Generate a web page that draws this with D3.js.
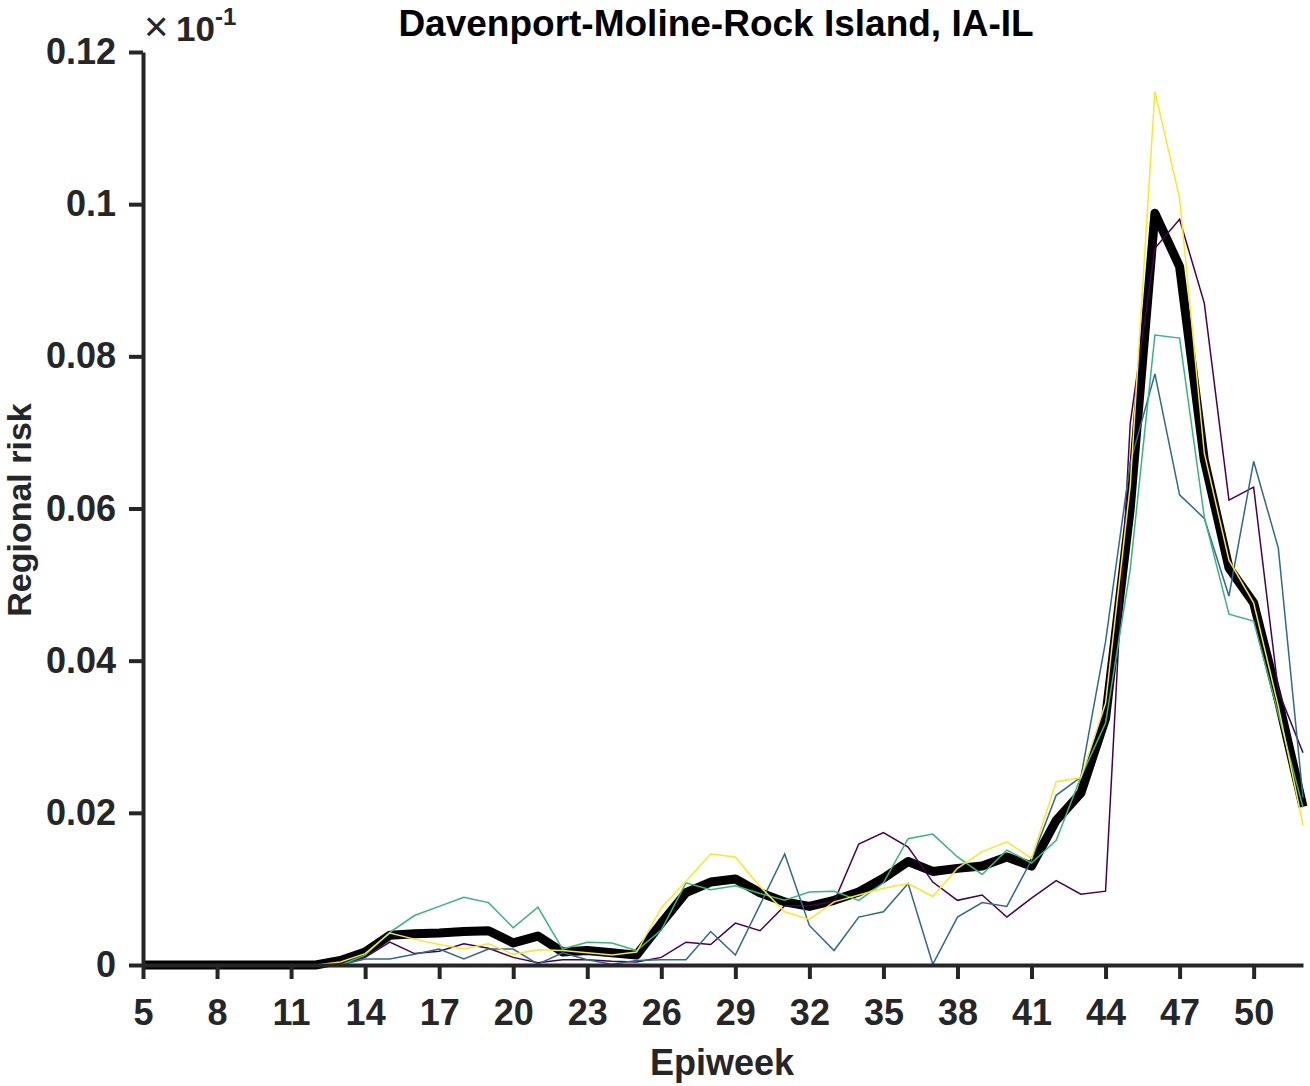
<!DOCTYPE html>
<meta charset="utf-8">
<html>
<head>
<script src="https://cdn.jsdelivr.net/npm/d3@7"></script>
<style>
  body { margin: 0; background: #fff; }
  text { font-family: "Liberation Sans", Arial, Helvetica, sans-serif; font-weight: bold; }
</style>
</head>
<body>
<svg id="chart" width="1310" height="1086"></svg>
<script>
// epiweeks 5..52
var weeks = d3.range(5, 53);
var xTicks = [5, 8, 11, 14, 17, 20, 23, 26, 29, 32, 35, 38, 41, 44, 47, 50];
var yTicks = [0, 0.02, 0.04, 0.06, 0.08, 0.1, 0.12];

// regional risk (axis units, x10^-1)
var meanRisk = [0, 0, 0, 0, 0, 0, 0, 0, 0.0006, 0.0017, 0.0039, 0.0041, 0.0042, 0.0044, 0.0045, 0.0029,
  0.0038, 0.0017, 0.0019, 0.0016, 0.0013, 0.0055, 0.0095, 0.0109, 0.0113, 0.0095, 0.0083, 0.0077,
  0.0085, 0.0096, 0.0114, 0.0136, 0.0123, 0.0127, 0.0130, 0.0142, 0.0130, 0.0190, 0.0226, 0.0324,
  0.0600, 0.0988, 0.0918, 0.0664, 0.0522, 0.0476, 0.0348, 0.0208];
var run1 = [0, 0, 0, 0, 0, 0, 0, 0, 0, 0.0010, 0.0030, 0.0015, 0.0018, 0.0028, 0.0022, 0.0010,
  0.0003, 0.0007, 0.0007, 0.0005, 0.0004, 0.0010, 0.0030, 0.0027, 0.0055, 0.0045, 0.0078, 0.0078,
  0.0083, 0.0159, 0.0174, 0.0155, 0.0109, 0.0085, 0.0092, 0.0063, 0.0088, 0.0111, 0.0093, 0.0097,
  0.0712, 0.0942, 0.0980, 0.0870, 0.0611, 0.0628, 0.0360, 0.0279];
var run2 = [0, 0, 0, 0, 0, 0, 0, 0, 0, 0.0008, 0.0008, 0.0014, 0.0021, 0.0008, 0.0021, 0.0021,
  0.0001, 0.0016, 0.0007, 0.0001, 0.0006, 0.0007, 0.0007, 0.0044, 0.0013, 0.0079, 0.0146, 0.0052,
  0.0019, 0.0063, 0.0070, 0.0107, 0.0001, 0.0063, 0.0082, 0.0077, 0.0138, 0.0223, 0.0247, 0.0425,
  0.0660, 0.0777, 0.0618, 0.0587, 0.0485, 0.0662, 0.0548, 0.0220];
var run3 = [0, 0, 0, 0, 0, 0, 0, 0, 0, 0.0013, 0.0043, 0.0065, 0.0077, 0.0089, 0.0082, 0.0049,
  0.0076, 0.0021, 0.0030, 0.0029, 0.0019, 0.0046, 0.0108, 0.0099, 0.0104, 0.0094, 0.0085, 0.0096,
  0.0097, 0.0085, 0.0108, 0.0166, 0.0172, 0.0142, 0.0119, 0.0151, 0.0134, 0.0164, 0.0247, 0.0318,
  0.0520, 0.0828, 0.0824, 0.0589, 0.0461, 0.0452, 0.0330, 0.0207];
var run4 = [0, 0, 0, 0, 0, 0, 0, 0, 0.0004, 0.0015, 0.0042, 0.0034, 0.0027, 0.0021, 0.0028, 0.0014,
  0.0020, 0.0019, 0.0016, 0.0013, 0.0017, 0.0075, 0.0110, 0.0146, 0.0142, 0.0103, 0.0070, 0.0060,
  0.0083, 0.0092, 0.0101, 0.0107, 0.0090, 0.0127, 0.0149, 0.0162, 0.0140, 0.0241, 0.0246, 0.0344,
  0.0630, 0.1148, 0.1008, 0.0673, 0.0532, 0.0476, 0.0340, 0.0184];

var runs = [run1, run2, run3, run4];
var runColors = ["#440154", "#31688e", "#35b779", "#fde725"];

var svg = d3.select("#chart");

var x = d3.scaleLinear().domain([5, 52]).range([143, 1303]);
var y = d3.scaleLinear().domain([0, 0.12]).range([965, 52]);

var line = d3.line()
  .x(function(d, i) { return x(weeks[i]); })
  .y(function(d) { return y(d); });

// mean first, runs drawn on top
svg.append("path")
  .datum(meanRisk)
  .attr("d", line)
  .attr("fill", "none")
  .attr("stroke", "#000")
  .attr("stroke-width", 9)
  .attr("stroke-linejoin", "round");

svg.selectAll(".run")
  .data(runs)
  .enter()
  .append("path")
    .attr("class", "run")
    .attr("d", line)
    .attr("fill", "none")
    .attr("stroke", function(d, i) { return runColors[i]; })
    .attr("stroke-width", 1.5);

// axes
var axisColor = "#262626";

var xAxis = svg.append("g")
  .attr("transform", "translate(0,965)")
  .call(d3.axisBottom(x).tickValues(xTicks).tickSizeInner(14).tickSizeOuter(0).tickPadding(20));

var yAxis = svg.append("g")
  .attr("transform", "translate(143,0)")
  .call(d3.axisLeft(y).tickValues(yTicks).tickSizeInner(14).tickSizeOuter(0).tickPadding(13)
    .tickFormat(function(d) { return d === 0 ? "0" : d3.format("~g")(d); }));

[xAxis, yAxis].forEach(function(g) {
  g.select(".domain").attr("stroke", axisColor).attr("stroke-width", 4);
  g.selectAll(".tick line").attr("stroke", axisColor).attr("stroke-width", 4);
  g.selectAll(".tick text")
    .attr("fill", axisColor)
    .style("font-size", "36px")
    .style("font-family", "'Liberation Sans', Arial, sans-serif")
    .style("font-weight", "bold");
});

// title
svg.append("text")
  .attr("x", 716)
  .attr("y", 36)
  .attr("text-anchor", "middle")
  .style("font-size", "37px")
  .attr("fill", "#000")
  .text("Davenport-Moline-Rock Island, IA-IL");

// exponent label
var expo = svg.append("text").attr("y", 41).attr("fill", axisColor);
expo.append("tspan").attr("x", 144).style("font-weight", "normal").style("font-size", "42px").text("\u00d7");
expo.append("tspan").attr("x", 176).style("font-size", "35px").text("10");
expo.append("tspan").attr("x", 215).attr("y", 25).style("font-size", "24px").text("-1");

// axis labels
svg.append("text")
  .attr("x", 722)
  .attr("y", 1075)
  .attr("text-anchor", "middle")
  .attr("fill", axisColor)
  .style("font-size", "36px")
  .text("Epiweek");

svg.append("text")
  .attr("transform", "translate(31,510) rotate(-90)")
  .attr("text-anchor", "middle")
  .attr("fill", axisColor)
  .style("font-size", "34px")
  .text("Regional risk");
</script>
</body>
</html>
